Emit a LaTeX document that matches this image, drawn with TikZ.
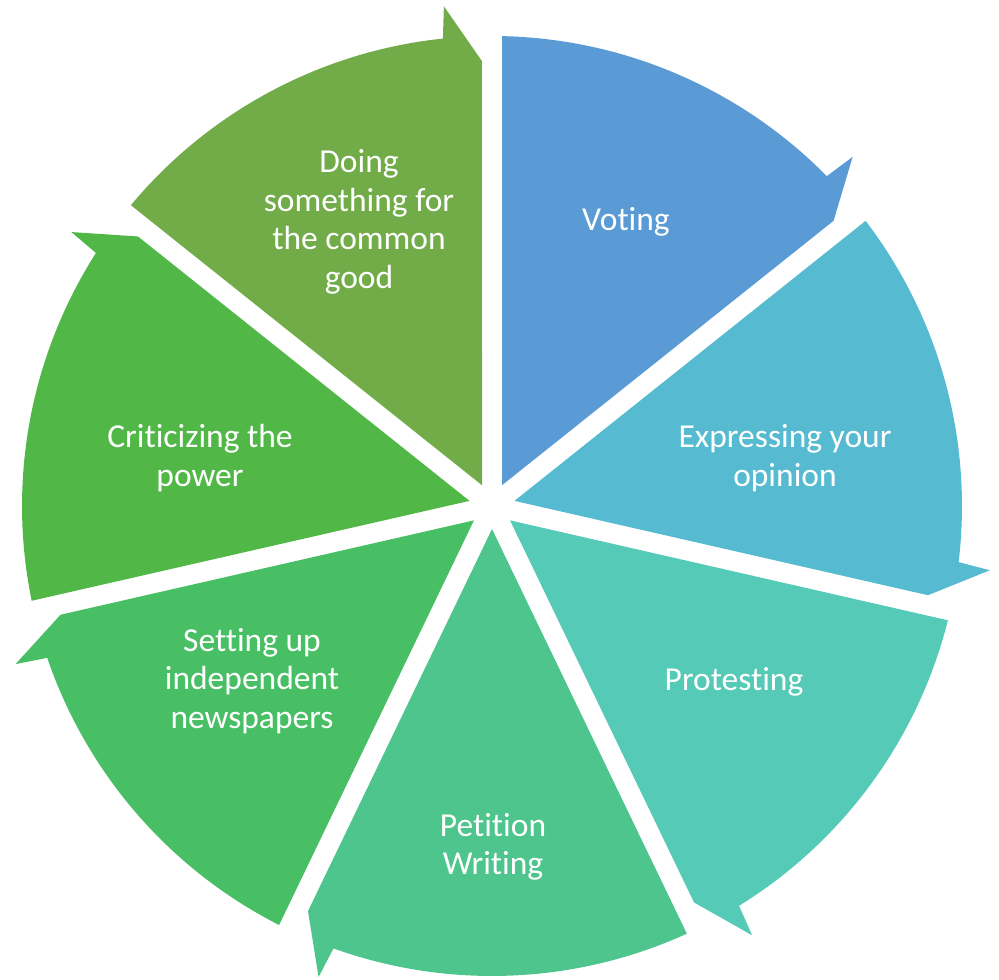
\documentclass[tikz,border=0pt]{standalone}
\usepackage{fontspec}
\setmainfont{Carlito}[Ligatures={NoCommon}]
\usetikzlibrary{calc}
\definecolor{cV}{HTML}{5B9BD5}
\definecolor{cE}{HTML}{56BBD0}
\definecolor{cP}{HTML}{54CAB7}
\definecolor{cW}{HTML}{4EC58D}
\definecolor{cS}{HTML}{48BF64}
\definecolor{cC}{HTML}{51B848}
\definecolor{cD}{HTML}{71AC48}
\tikzset{
  lbl/.style={text=white, align=center, font=\fontsize{33.5}{38.5}\selectfont, inner sep=0pt}
}
\begin{document}
\begin{tikzpicture}[x=1pt,y=1pt]
\useasboundingbox (0,0) rectangle (999,980);
\coordinate (C) at (492,474);
\foreach \i/\col in {0/cV,1/cE,2/cP,3/cW,4/cS,5/cC,6/cD}{
  \pgfmathsetmacro\s{90-\i*360/7}
  \pgfmathsetmacro\e{\s-360/7}
  \pgfmathsetmacro\b{\s-180/7}
  \pgfmathsetmacro\sa{\s-1.22}
  \pgfmathsetmacro\ea{\e+6}
  \pgfmathsetmacro\et{\e+5.5}
  \pgfmathsetmacro\ei{\e+1.29}
  \fill[\col] ($(C)+(\b:23.05pt)$) -- ($(C)+(\sa:470pt)$)
     arc[start angle=\sa, end angle=\ea, radius=470pt]
     -- ($(C)+(\et:502pt)$) -- ($(C)+(\ei:445pt)$) -- cycle;
}
\node[lbl] (voting) at (626,758) {Voting};
\node[lbl] (express) at (785,522) {Expressing your\\opinion};
\node[lbl] (protest) at (734,298) {Protesting};
\node[lbl] (petition) at (493,133) {Petition\\Writing};
\node[lbl] (setting) at (252,299) {Setting up\\independent\\newspapers};
\node[lbl] (critic) at (200,522) {Criticizing the\\power};
\node[lbl] (doing) at (359,758) {Doing\\something for\\the common\\good};
\end{tikzpicture}
\end{document}
